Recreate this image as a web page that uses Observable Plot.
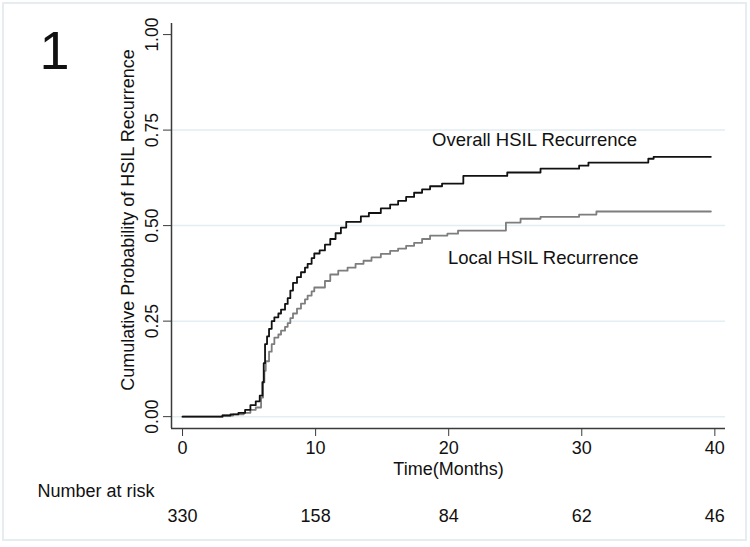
<!DOCTYPE html>
<html>
<head>
<meta charset="utf-8">
<script src="https://cdn.jsdelivr.net/npm/d3@7"></script>
<script src="https://cdn.jsdelivr.net/npm/@observablehq/plot@0.6"></script>
<style>
  html, body { margin: 0; padding: 0; background: #fff; }
  #wrap { position: relative; width: 750px; height: 547px; }
  #border { position: absolute; left: 2px; top: 2px; width: 741px; height: 535px; border: 2px solid #e6edf0; pointer-events: none; }
  svg { position: absolute; left: 0; top: 0; }
</style>
</head>
<body>
<div id="wrap"><div id="border"></div></div>
<script>
// ---- data ----
const overallTime  = [0, 3.0, 3.6, 4.2, 4.7, 5.1, 5.5, 5.8, 6.0, 6.1, 6.2, 6.35, 6.5, 6.7, 6.9, 7.2, 7.4, 7.7, 7.9, 8.1, 8.3, 8.6, 8.9, 9.2, 9.4, 9.7, 9.9, 10.3, 10.7, 11.1, 11.5, 11.9, 12.3, 13.4, 14.0, 14.9, 15.6, 16.2, 16.8, 17.4, 18.0, 18.6, 19.5, 21.1, 24.4, 26.9, 29.8, 30.5, 35.0, 35.4, 39.7];
const overallValue = [0, 0.003, 0.006, 0.010, 0.018, 0.030, 0.040, 0.055, 0.09, 0.14, 0.19, 0.21, 0.23, 0.25, 0.26, 0.27, 0.28, 0.295, 0.31, 0.33, 0.35, 0.365, 0.378, 0.39, 0.40, 0.415, 0.427, 0.435, 0.45, 0.465, 0.48, 0.495, 0.51, 0.524, 0.533, 0.545, 0.555, 0.565, 0.575, 0.586, 0.595, 0.603, 0.61, 0.63, 0.639, 0.649, 0.657, 0.665, 0.675, 0.68, 0.68];

const localTime  = [0, 3.0, 3.8, 4.6, 5.1, 5.5, 5.9, 6.05, 6.15, 6.25, 6.5, 6.7, 6.9, 7.2, 7.4, 7.7, 7.9, 8.1, 8.3, 8.6, 8.9, 9.2, 9.4, 9.7, 9.9, 10.7, 11.1, 11.7, 12.4, 13.0, 13.6, 14.2, 14.9, 15.6, 16.2, 16.8, 17.4, 18.0, 18.6, 19.9, 20.7, 24.3, 25.4, 26.9, 29.8, 31.1, 39.7];
const localValue = [0, 0.003, 0.006, 0.010, 0.018, 0.024, 0.05, 0.09, 0.12, 0.145, 0.17, 0.19, 0.207, 0.215, 0.225, 0.235, 0.245, 0.258, 0.27, 0.283, 0.296, 0.307, 0.317, 0.328, 0.338, 0.355, 0.372, 0.382, 0.39, 0.40, 0.408, 0.417, 0.426, 0.434, 0.44, 0.447, 0.455, 0.465, 0.474, 0.479, 0.487, 0.508, 0.518, 0.523, 0.529, 0.537, 0.537];

const xTicks = [0, 10, 20, 30, 40];
const yTicks = [0, 0.25, 0.5, 0.75, 1];
const gridTicks = [0, 0.25, 0.5, 0.75];
const riskTimes = [0, 10, 20, 30, 40];
const riskCounts = [330, 158, 84, 62, 46];

const seriesNames = ["Overall HSIL Recurrence", "Local HSIL Recurrence"];
const seriesColors = ["#111111", "#7d7d7d"];
const seriesLabelTimes = [26.45, 27.1];
const seriesLabelValues = [0.725, 0.416];

const panelLabel = "1";
const xTitle = "Time(Months)";
const yTitle = "Cumulative Probability of HSIL Recurrence";
const riskTitle = "Number at risk";

const xDomain = [-0.83, 40.8];
const yDomain = [-0.031, 1.029];

// ---- build ----
const overall = overallTime.map((t, i) => ({t, v: overallValue[i]}));
const local = localTime.map((t, i) => ({t, v: localValue[i]}));
const font = "'Liberation Sans', Arial, Helvetica, sans-serif";
const axisColor = "#3a3a3a";
const ink = "#111";

const chart = Plot.plot({
  width: 750,
  height: 547,
  marginLeft: 171,
  marginRight: 25,
  marginTop: 23,
  marginBottom: 119,
  style: {fontFamily: font, fontSize: "18px", color: ink, background: "transparent", overflow: "visible"},
  x: {domain: xDomain},
  y: {domain: yDomain},
  marks: [
    Plot.gridY(gridTicks, {stroke: "#e3edf2", strokeOpacity: 1, strokeWidth: 1.5}),
    Plot.line(local, {x: "t", y: "v", curve: "step-after", stroke: seriesColors[1], strokeWidth: 1.8}),
    Plot.line(overall, {x: "t", y: "v", curve: "step-after", stroke: seriesColors[0], strokeWidth: 1.8}),
    Plot.ruleY([yDomain[0]], {stroke: axisColor, strokeWidth: 1.5}),
    Plot.ruleX([xDomain[0]], {stroke: axisColor, strokeWidth: 1.5}),
    Plot.axisX({ticks: xTicks, tickSize: 8, tickPadding: 5, fontSize: 18, label: null, stroke: axisColor, color: ink}),
    Plot.axisY({ticks: yTicks, tickSize: 8, tickFormat: () => "", label: null, stroke: axisColor}),
    Plot.text(yTicks, {y: d => d, text: d => d3.format(".2f")(d), frameAnchor: "left", textAnchor: "middle", lineAnchor: "middle", dx: -19, rotate: -90, fontSize: 17.5, fill: ink}),
    Plot.text([yTitle], {text: d => d, frameAnchor: "left", textAnchor: "middle", lineAnchor: "middle", dx: -43, dy: -6, rotate: -90, fontSize: 18, fill: ink}),
    Plot.text([xTitle], {text: d => d, frameAnchor: "bottom", textAnchor: "middle", lineAnchor: "middle", dy: 41, fontSize: 18, fill: ink}),
    Plot.text(seriesNames, {x: (d, i) => seriesLabelTimes[i], y: (d, i) => seriesLabelValues[i], text: d => d, textAnchor: "middle", lineAnchor: "middle", fontSize: 18.5, fill: ink}),
    Plot.text([panelLabel], {text: d => d, frameAnchor: "top-left", textAnchor: "middle", lineAnchor: "middle", dx: -117, dy: 28, fontSize: 54, fill: ink}),
    Plot.text([riskTitle], {text: d => d, frameAnchor: "bottom-left", textAnchor: "start", lineAnchor: "middle", dx: -134, dy: 63, fontSize: 18, fill: ink}),
    Plot.text(riskCounts, {x: (d, i) => riskTimes[i], text: d => String(d), frameAnchor: "bottom", textAnchor: "middle", lineAnchor: "middle", dy: 88, fontSize: 18, fill: ink})
  ]
});
document.getElementById("wrap").appendChild(chart);
</script>
</body>
</html>
